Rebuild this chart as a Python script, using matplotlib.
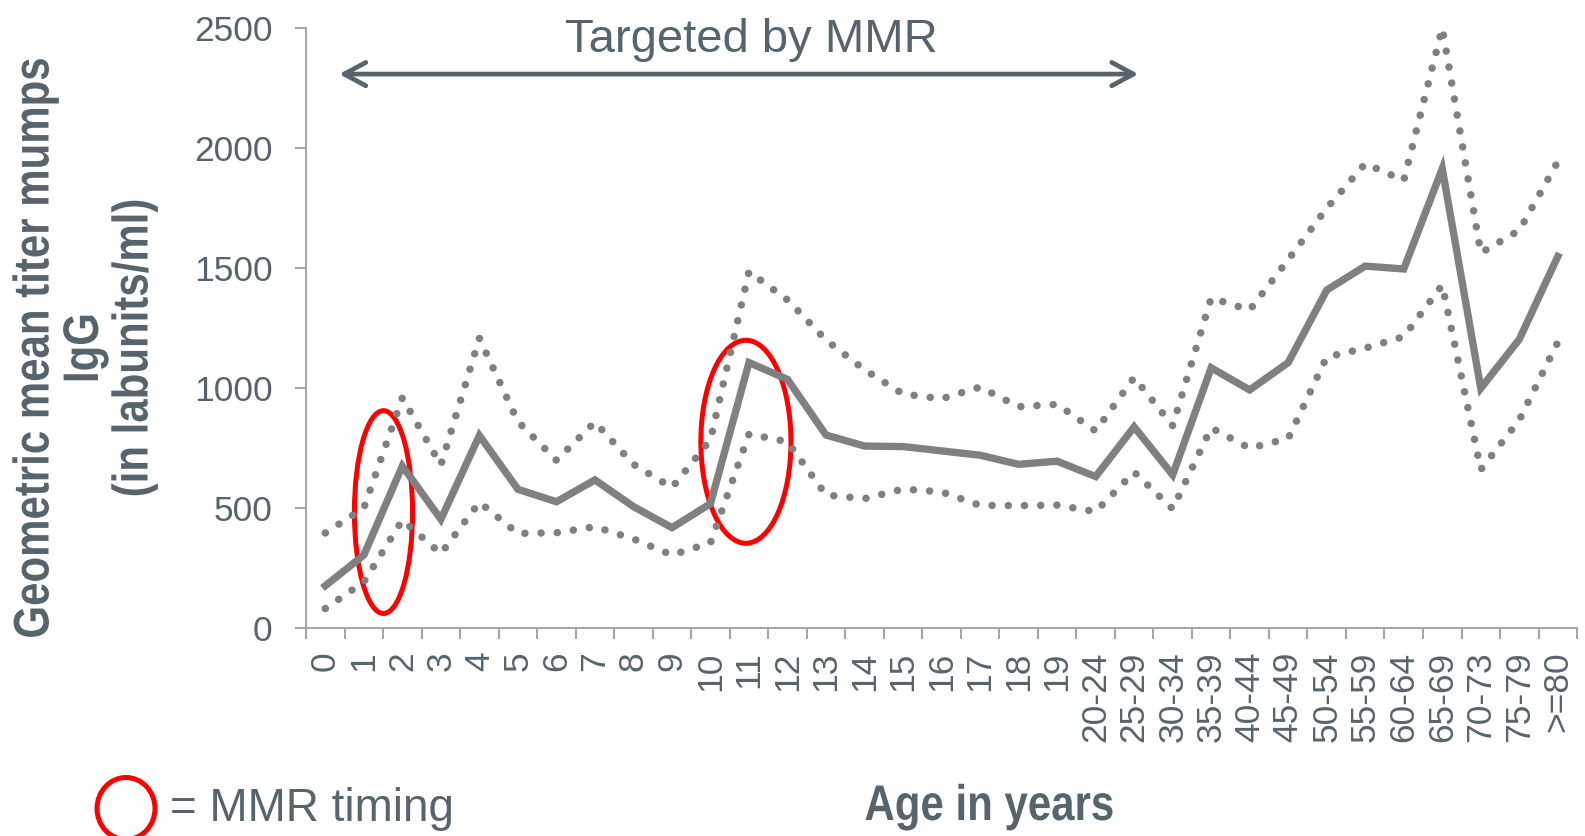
import matplotlib
matplotlib.use('Agg')
import matplotlib.pyplot as plt
from matplotlib.patches import Ellipse, PathPatch
from matplotlib.textpath import TextPath
from matplotlib.font_manager import FontProperties
from matplotlib.transforms import Affine2D

# age groups on the x axis
ages = [str(a) for a in range(20)] + ['20-24', '25-29', '30-34', '35-39', '40-44', '45-49',
                                       '50-54', '55-59', '60-64', '65-69', '70-73', '75-79', '>=80']

# geometric mean titer (labunits/ml) and its confidence band
gmt = [176, 304, 675, 453, 802, 578, 526, 617, 506, 418, 518, 1106, 1036, 804, 758, 756, 738, 720,
       682, 695, 631, 838, 638, 1084, 992, 1106, 1408, 1508, 1496, 1914, 999, 1203, 1548]
gmt_upper = [396, 500, 959, 679, 1207, 860, 699, 858, 682, 585, 785, 1485, 1367, 1200, 1076, 975, 955,
             1004, 922, 932, 821, 1044, 843, 1375, 1325, 1535, 1749, 1935, 1865, 2500, 1563, 1657, 1943]
gmt_lower = [81, 192, 450, 310, 524, 394, 397, 422, 371, 304, 355, 808, 776, 554, 539, 579, 567,
             511, 510, 512, 485, 650, 496, 834, 749, 790, 1129, 1166, 1214, 1429, 660, 867, 1191]

# MMR doses: (x centre, y centre, width, height) in data units
mmr_marks = [(1.51, 483, 1.51, 845), (10.92, 776, 2.34, 846)]

text_col = '#58646b'
line_col = '#808080'
axis_col = '#a6a6a6'

plt.rcParams['font.family'] = ['Liberation Sans', 'DejaVu Sans']


def narrow_text(fig, lines, x, y, size, squeeze, gap, rotate=0):
    """Bold text squeezed horizontally (narrow face), block centred on pixel (x, y)."""
    prop = FontProperties(family='Liberation Sans', weight='bold')
    n = len(lines)
    for i, s in enumerate(lines):
        tp = TextPath((0, 0), s, size=size, prop=prop)
        ext = tp.get_extents()
        dy = ((n - 1) / 2 - i) * gap - 0.36 * size
        tr = (Affine2D().translate(-(ext.x0 + ext.width / 2), dy)
              .scale(squeeze, 1).rotate_deg(rotate).translate(x, y))
        fig.add_artist(PathPatch(tp, transform=tr, facecolor=text_col, edgecolor='none'))


fig = plt.figure(figsize=(15.85, 8.36), dpi=100)
ax = fig.add_axes([0.1931, 0.2488, 0.8019, 0.7177])

x = list(range(len(ages)))
ax.plot(x, gmt_upper, color=line_col, lw=5.4, linestyle=(0, (0.01, 2.15)),
        dash_capstyle='round', clip_on=False)
ax.plot(x, gmt_lower, color=line_col, lw=5.4, linestyle=(0, (0.01, 2.15)),
        dash_capstyle='round', clip_on=False)
ax.plot(x, gmt, color=line_col, lw=5.3, solid_joinstyle='miter')

ax.set_xlim(-0.5, len(ages) - 0.5)
ax.set_ylim(0, 2500)

# category labels at centres, tick marks on the boundaries
ax.set_xticks(x)
ax.set_xticklabels(ages, rotation=90, fontsize=25.5, color=text_col)
ax.set_xticks([i - 0.5 for i in range(len(ages) + 1)], minor=True)
ax.tick_params(axis='x', which='major', length=0, pad=17)
ax.tick_params(axis='x', which='minor', length=8, width=1.5, color=axis_col, direction='out')

ax.set_yticks([0, 500, 1000, 1500, 2000, 2500])
ax.tick_params(axis='y', length=8, width=1.5, color=axis_col, pad=16,
               labelsize=25.5, labelcolor=text_col)

for s in ['top', 'right']:
    ax.spines[s].set_visible(False)
for s in ['left', 'bottom']:
    ax.spines[s].set_color(axis_col)
    ax.spines[s].set_linewidth(1.5)

for cx, cy, w, h in mmr_marks:
    ax.add_patch(Ellipse((cx, cy), w, h, fill=False, edgecolor='#ff0000', lw=3.6, clip_on=False))

# span targeted by the vaccine
ax.annotate('', xy=(21.11, 2308), xytext=(0.36, 2308),
            arrowprops=dict(arrowstyle='<->, head_length=0.78, head_width=0.42',
                            color=text_col, lw=3.4, mutation_scale=20,
                            shrinkA=0, shrinkB=0, capstyle='round'),
            annotation_clip=False)
fig.text(0.4738, 0.9378, 'Targeted by MMR', fontsize=34, color=text_col,
         ha='center', va='baseline')

# axis titles
narrow_text(fig, ['Geometric mean titer mumps', 'IgG', '(in labunits/ml)'],
            80, 488, size=50, squeeze=0.84, gap=49.5, rotate=90)
narrow_text(fig, ['Age in years'], 989, 34, size=50, squeeze=0.84, gap=0)

# legend key for the red rings
fig.add_artist(Ellipse((126 / 1585, 1 - 808.5 / 836), 58 / 1585, 62 / 836,
                       transform=fig.transFigure, fill=False, edgecolor='#ff0000', lw=3.6))
fig.text(170 / 1585, 0.018, '= MMR timing', fontsize=33, color=text_col,
         ha='left', va='baseline')

fig.savefig('out.png', dpi=100)
